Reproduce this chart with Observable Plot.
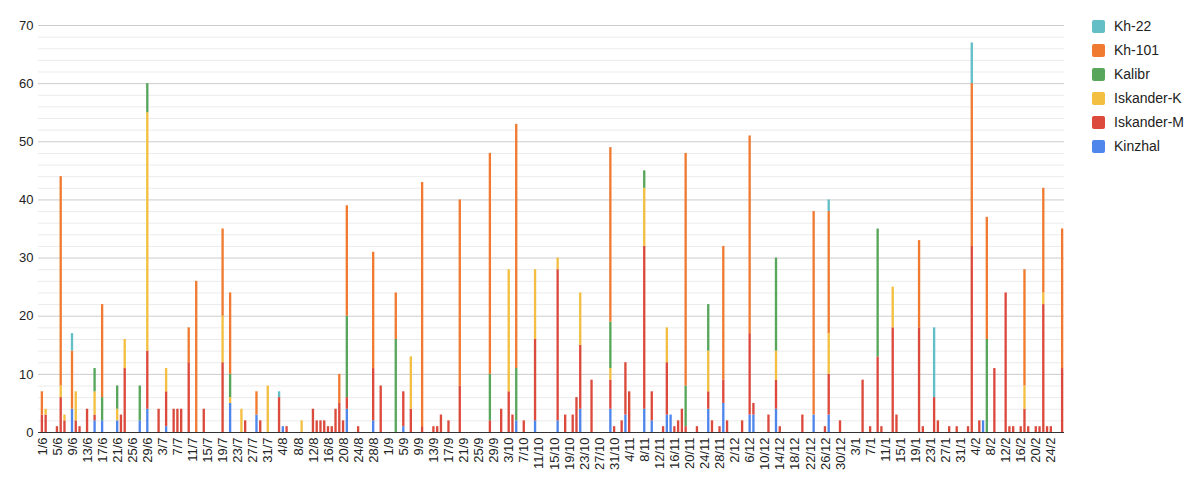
<!DOCTYPE html>
<html><head><meta charset="utf-8">
<script src="https://cdn.jsdelivr.net/npm/d3@7"></script>
<script src="https://cdn.jsdelivr.net/npm/@observablehq/plot@0.6"></script>
<style>
body{margin:0;background:#fff;font-family:"Liberation Sans",Arial,sans-serif;}
#wrap{position:relative;width:1200px;height:482px;}
#legend{position:absolute;left:1092px;top:14px;font-size:14px;color:#222;}
.item{display:flex;align-items:center;height:24px;}
.sw{width:13px;height:13px;border-radius:2px;margin-right:9px;}
</style></head><body><div id="wrap"><div id="legend"></div></div>
<script>
const startDate = "2023-06-01";
const endDate = "2024-02-27";
const series = ["Kinzhal","Iskander-M","Iskander-K","Kalibr","Kh-101","Kh-22"];
const colors = ["#4f86ec","#db4a3c","#f3bf41","#57a65b","#ef7a30","#63bec6"];
const legendOrder = ["Kh-22","Kh-101","Kalibr","Iskander-K","Iskander-M","Kinzhal"];
const yTicks = [0,10,20,30,40,50,60,70];

const dates = ["1/6","2/6","5/6","6/6","7/6","9/6","10/6","11/6","13/6","15/6","17/6","21/6","22/6","23/6","27/6","29/6",
"2/7","4/7","6/7","7/7","8/7","10/7","12/7","14/7","19/7","21/7","24/7","25/7","28/7","29/7","31/7",
"3/8","4/8","5/8","9/8","12/8","13/8","14/8","15/8","16/8","17/8","18/8","19/8","20/8","21/8","24/8","28/8","30/8",
"3/9","5/9","7/9","10/9","13/9","14/9","15/9","17/9","20/9","28/9",
"1/10","3/10","4/10","5/10","7/10","10/10","16/10","18/10","20/10","21/10","22/10","25/10","30/10","31/10",
"2/11","3/11","4/11","8/11","10/11","13/11","14/11","15/11","16/11","17/11","18/11","19/11","22/11","25/11","26/11","28/11","29/11","30/11",
"4/12","6/12","7/12","11/12","13/12","14/12","20/12","23/12","26/12","27/12","30/12",
"5/1","7/1","9/1","10/1","13/1","14/1","20/1","21/1","24/1","25/1","28/1","30/1",
"2/2","3/2","5/2","6/2","7/2","9/2","12/2","13/2","14/2","16/2","17/2","18/2","20/2","21/2","22/2","23/2","24/2","27/2"];

const kinzhal = [0,0,0,0,0,4,0,0,0,2,2,2,0,0,2,4,
0,1,0,0,0,0,0,0,0,5,0,0,3,0,0,
0,1,0,0,0,0,0,0,0,0,0,0,0,4,0,2,0,
0,1,0,0,0,0,0,0,0,0,
0,0,0,2,0,2,2,0,0,0,4,0,4,0,
0,3,0,4,2,0,3,3,0,0,0,0,0,4,0,0,5,0,
0,3,3,0,4,0,0,3,0,3,0,
0,0,0,0,0,0,0,0,0,0,0,0,
0,0,0,2,0,0,0,0,0,0,0,0,0,0,0,0,0,0];
const iskanderM = [3,3,1,6,2,0,2,1,4,1,0,0,3,11,0,10,
4,6,4,4,4,12,0,4,12,0,0,2,0,2,0,
6,0,1,0,4,2,2,2,1,1,4,5,2,2,1,9,8,
0,6,4,1,1,1,3,2,8,2,
4,7,3,0,2,14,26,3,3,6,11,9,5,1,
2,9,7,28,5,1,9,0,1,2,4,1,1,3,2,1,4,2,
2,14,2,3,5,1,3,0,1,7,2,
9,1,13,1,18,3,18,1,6,2,1,1,
1,32,2,0,0,11,24,1,1,1,4,1,1,1,22,1,1,11];
const iskanderK = [0,1,0,2,1,0,5,0,0,4,0,2,0,5,0,41,
0,4,0,0,0,0,0,0,8,1,4,0,0,0,8,
0,0,0,2,0,0,0,0,0,0,0,0,0,0,0,0,0,
0,0,9,0,0,0,0,0,0,0,
0,21,0,0,0,12,2,0,0,0,9,0,2,0,
0,0,0,10,0,0,6,0,0,0,0,0,0,7,0,0,0,0,
0,0,0,0,5,0,0,0,0,7,0,
0,0,0,0,7,0,0,0,0,0,0,0,
0,0,0,0,0,0,0,0,0,0,4,0,0,0,2,0,0,0];
const kalibr = [0,0,0,0,0,0,0,0,0,4,4,4,0,0,6,5,
0,0,0,0,0,0,0,0,0,4,0,0,0,0,0,
0,0,0,0,0,0,0,0,0,0,0,0,0,14,0,0,0,
16,0,0,0,0,0,0,0,0,8,
0,0,0,9,0,0,0,0,0,0,0,0,8,0,
0,0,0,3,0,0,0,0,0,0,0,7,0,8,0,0,0,0,
0,0,0,0,16,0,0,0,0,0,0,
0,0,22,0,0,0,0,0,0,0,0,0,
0,0,0,0,16,0,0,0,0,0,0,0,0,0,0,0,0,0];
const kh101 = [4,0,0,36,0,10,0,0,0,0,16,0,0,0,0,0,
0,0,0,0,0,6,26,0,15,14,0,0,4,0,0,
0,0,0,0,0,0,0,0,0,0,0,5,0,19,0,20,0,
8,0,0,42,0,0,0,0,32,38,
0,0,0,42,0,0,0,0,0,0,0,0,30,0,
0,0,0,0,0,0,0,0,0,0,0,40,0,0,0,0,23,0,
0,34,0,0,0,0,0,35,0,21,0,
0,0,0,0,0,0,15,0,0,0,0,0,
0,28,0,0,21,0,0,0,0,0,20,0,0,0,18,0,0,24];
const kh22 = [0,0,0,0,0,3,0,0,0,0,0,0,0,0,0,0,
0,0,0,0,0,0,0,0,0,0,0,0,0,0,0,
1,0,0,0,0,0,0,0,0,0,0,0,0,0,0,0,0,
0,0,0,0,0,0,0,0,0,0,
0,0,0,0,0,0,0,0,0,0,0,0,0,0,
0,0,0,0,0,0,0,0,0,0,0,0,0,0,0,0,0,0,
0,0,0,0,0,0,0,0,0,2,0,
0,0,0,0,0,0,0,0,12,0,0,0,
0,7,0,0,0,0,0,0,0,0,0,0,0,0,0,0,0,0];

const fmt = d3.utcFormat("%-d/%-m");
const allDays = d3.utcDay.range(new Date(startDate), d3.utcDay.offset(new Date(endDate), 1)).map(fmt);
const xTicks = allDays.filter((d, i) => i % 4 === 0);
const minor = d3.range(2, 70, 2).filter(v => v % 10 !== 0);

const values = [kinzhal, iskanderM, iskanderK, kalibr, kh101, kh22];
const rows = dates.flatMap((d, i) => series.map((s, j) => ({date: d, type: s, n: values[j][i]}))).filter(r => r.n > 0);

const chart = Plot.plot({
  width: 1200, height: 482,
  marginLeft: 38, marginRight: 136, marginTop: 25, marginBottom: 50,
  style: {fontFamily: '"Liberation Sans", Arial, sans-serif', fontSize: "13px", color: "#222", background: "#fff"},
  x: {type: "band", domain: allDays, paddingInner: 0.38, paddingOuter: 0.19, insetLeft: 2},
  y: {domain: [0, 70]},
  color: {domain: series, range: colors},
  marks: [
    Plot.ruleY(minor, {stroke: "#ebebeb"}),
    Plot.ruleY(yTicks.slice(1), {stroke: "#cccccc"}),
    Plot.barY(rows, {x: "date", y: "n", fill: "type", order: series}),
    Plot.ruleY([0], {stroke: "#333"}),
    Plot.axisY({ticks: yTicks, tickSize: 0, tickPadding: 5, fontSize: 13, label: null}),
    Plot.axisX({ticks: xTicks, tickSize: 0, tickPadding: 5, tickRotate: -90, fontSize: 13, label: null})
  ]
});
document.getElementById("wrap").prepend(chart);

const leg = document.getElementById("legend");
legendOrder.forEach(s => {
  const it = document.createElement("div"); it.className = "item";
  const sw = document.createElement("div"); sw.className = "sw"; sw.style.background = colors[series.indexOf(s)];
  const tx = document.createElement("span"); tx.textContent = s;
  it.append(sw, tx); leg.append(it);
});
</script>
</body></html>
